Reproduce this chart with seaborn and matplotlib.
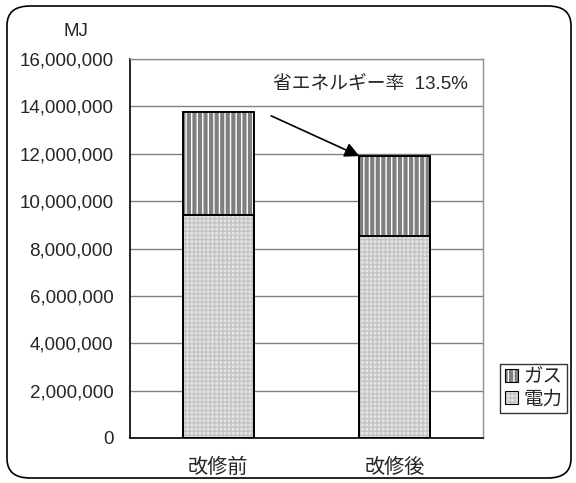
import matplotlib
matplotlib.use("Agg")
import matplotlib.pyplot as plt
import seaborn as sns
import pandas as pd
from matplotlib.patches import FancyBboxPatch, Patch
from matplotlib.ticker import FuncFormatter, MultipleLocator

# データ (MJ)
categorias = ["改修前", "改修後"]
denryoku = [9400000, 8540000]
gas = [4350000, 3360000]
ritsu_texto = "省エネルギー率  13.5%"

sns.set_style("white")
plt.rcParams['font.family'] = ['Liberation Sans', 'Noto Sans CJK JP']
plt.rcParams['hatch.linewidth'] = 1.0

df = pd.DataFrame({"区分": categorias, "電力": denryoku, "ガス": gas})
df["合計"] = df["電力"] + df["ガス"]

fig = plt.figure(figsize=(5.76, 4.83), dpi=100)
ax = fig.add_axes([130 / 576, 45 / 483, 353 / 576, 379 / 483])

# ガス (合計の棒として描き、その上に電力を重ねる)
sns.barplot(data=df, x="区分", y="合計", ax=ax, width=0.4,
            color="#7f7f7f", saturation=1, edgecolor="white",
            linewidth=0, hatch="|||", zorder=3)
sns.barplot(data=df, x="区分", y="電力", ax=ax, width=0.4,
            color="#e4e4e4", saturation=1, edgecolor="#c4c4c4",
            linewidth=0, hatch="++++", zorder=4)
# 枠線
sns.barplot(data=df, x="区分", y="合計", ax=ax, width=0.4, fill=False,
            color="black", linewidth=1.4, zorder=5)
sns.barplot(data=df, x="区分", y="電力", ax=ax, width=0.4, fill=False,
            color="black", linewidth=1.4, zorder=5)

ax.set_xlim(-0.5, 1.5)
ax.set_ylim(0, 16000000)
ax.yaxis.set_major_locator(MultipleLocator(2000000))
ax.yaxis.set_major_formatter(FuncFormatter(lambda v, p: f"{int(v):,}"))
ax.grid(axis="y", color="#808080", linewidth=1.0, zorder=0)
ax.set_axisbelow(True)
ax.set_xlabel("")
ax.set_ylabel("")

ax.tick_params(axis="y", length=0, pad=12, labelsize=13.5)
ax.tick_params(axis="x", length=0, pad=14, labelsize=14.5)
ax.set_xticks([0.5], minor=True)
ax.tick_params(axis="x", which="minor", direction="in", length=5, color="black")

for lado in ["left", "bottom"]:
    ax.spines[lado].set_color("black")
    ax.spines[lado].set_linewidth(1.2)
for lado in ["top", "right"]:
    ax.spines[lado].set_color("#909090")
    ax.spines[lado].set_linewidth(1.0)

# 矢印と省エネルギー率
ax.annotate("", xy=(0.8, df["合計"][1]), xytext=(0.3, 13600000),
            arrowprops=dict(arrowstyle="-|>", color="black", lw=1.2,
                            mutation_scale=22, shrinkA=0, shrinkB=0),
            zorder=6)
ax.text(0.865, 14900000, ritsu_texto, ha="center", va="center", fontsize=13.5)

fig.text(76 / 576, 1 - 32 / 483, "MJ", ha="center", va="center", fontsize=13.5)

# 凡例 (塗り + 黒枠を重ねる)
borde = Patch(facecolor="none", edgecolor="black", linewidth=0.8)
handles = [
    (Patch(facecolor="#7f7f7f", edgecolor="white", hatch="|||", linewidth=0), borde),
    (Patch(facecolor="#e4e4e4", edgecolor="#c4c4c4", hatch="++++", linewidth=0), borde),
]
leg = fig.legend(handles=handles, labels=["ガス", "電力"], loc="upper left",
                 bbox_to_anchor=(500 / 576, 1 - 364 / 483),
                 frameon=True, fancybox=False, fontsize=14,
                 handlelength=0.65, handleheight=0.65, handletextpad=0.3,
                 borderpad=0.25, labelspacing=0.25, borderaxespad=0)
leg.get_frame().set_edgecolor("black")
leg.get_frame().set_linewidth(1.0)

# 外枠 (角丸)
marco = FancyBboxPatch((7 / 576, 5 / 483), 564 / 576, 472 / 483,
                       boxstyle="round,pad=0,rounding_size=0.04",
                       transform=fig.transFigure, fill=False,
                       edgecolor="black", linewidth=1.2)
fig.patches.append(marco)

fig.savefig("out.png", dpi=100)
